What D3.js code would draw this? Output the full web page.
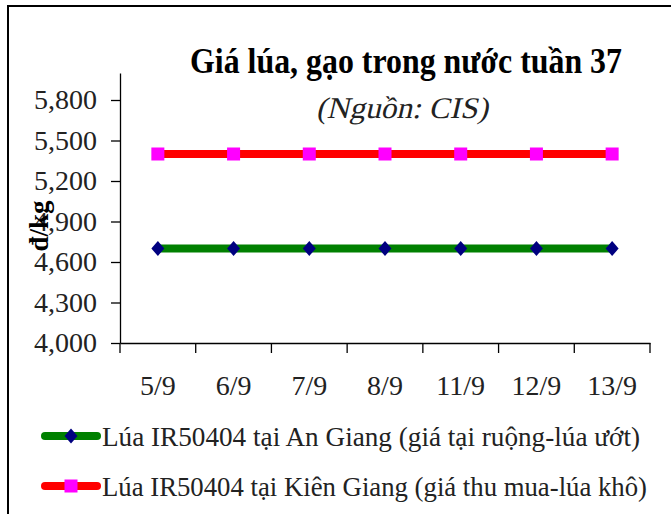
<!DOCTYPE html>
<html>
<head>
<meta charset="utf-8">
<script src="https://cdn.jsdelivr.net/npm/d3@7"></script>
<style>
  body { margin: 0; background: #fff; }
</style>
</head>
<body>
<div id="chart"></div>
<script>
const days = ["5/9", "6/9", "7/9", "8/9", "11/9", "12/9", "13/9"];
const anGiang = [4700, 4700, 4700, 4700, 4700, 4700, 4700];
const kienGiang = [5400, 5400, 5400, 5400, 5400, 5400, 5400];
const yTicks = [4000, 4300, 4600, 4900, 5200, 5500, 5800];

const SERIF = "Liberation Serif";

const width = 671, height = 514;
const svg = d3.select("#chart").append("svg")
    .attr("width", width)
    .attr("height", height)
    .style("font-family", SERIF);

// outer frame (runs off the right and bottom edges)
svg.append("rect")
    .attr("x", 8).attr("y", 6)
    .attr("width", 700).attr("height", 600)
    .attr("fill", "none")
    .attr("stroke", "#000")
    .attr("stroke-width", 2);

const plotLeft = 120, plotRight = 650, plotTop = 73, plotBottom = 343;

const x = d3.scaleBand().domain(days).range([plotLeft, plotRight]);
// 40.5px per 300 d, axis line runs a bit above 5,800
const y = d3.scaleLinear()
    .domain([4000, 4000 + (plotBottom - plotTop) / 40.5 * 300])
    .range([plotBottom, plotTop]);

const fmt = d3.format(",");

// y axis
const yAxis = svg.append("g")
    .attr("transform", `translate(${plotLeft},0)`)
    .call(d3.axisLeft(y).tickValues(yTicks).tickFormat(fmt).tickSize(9).tickSizeOuter(0));
yAxis.attr("font-family", null);
yAxis.select(".domain").attr("stroke-width", 1.3);
yAxis.selectAll(".tick line").attr("stroke-width", 1.3);
yAxis.selectAll("text")
    .style("font-family", SERIF)
    .style("font-size", "28px")
    .attr("x", -23)
    .attr("fill", "#222");

// x axis
const xAxis = svg.append("g")
    .attr("transform", `translate(0,${plotBottom})`)
    .call(d3.axisBottom(x).tickSize(0).tickSizeOuter(0));
xAxis.attr("font-family", null);
xAxis.select(".domain").attr("stroke-width", 1.3);
xAxis.selectAll("text")
    .style("font-family", SERIF)
    .style("font-size", "28px")
    .attr("dy", 0)
    .attr("y", 52)
    .attr("fill", "#222");
// boundary ticks between categories
const bounds = days.map(d => x(d)).concat([plotRight]);
svg.append("g").selectAll("line")
    .data(bounds)
    .enter().append("line")
    .attr("x1", d => d).attr("x2", d => d)
    .attr("y1", plotBottom).attr("y2", plotBottom + 10)
    .attr("stroke", "#000")
    .attr("stroke-width", 1.3);

const cx = d => x(d) + x.bandwidth() / 2;

const series = [
  { name: "Lúa IR50404 tại An Giang (giá tại ruộng-lúa ướt)", values: anGiang, line: "#008000", marker: "#000080", shape: "diamond", len: 538 },
  { name: "Lúa IR50404 tại Kiên Giang (giá thu mua-lúa khô)", values: kienGiang, line: "#ff0000", marker: "#ff00ff", shape: "square", len: 545 }
];

const lineGen = d3.line().x((v, i) => cx(days[i])).y(v => y(v));

function drawMarker(g, shape, color, px, py) {
  if (shape === "square") {
    g.append("rect")
      .attr("x", px - 6.5).attr("y", py - 6.5)
      .attr("width", 13).attr("height", 13)
      .attr("fill", color);
  } else {
    g.append("path")
      .attr("d", `M${px},${py - 7.5}L${px + 6.5},${py}L${px},${py + 7.5}L${px - 6.5},${py}Z`)
      .attr("fill", color);
  }
}

series.forEach(s => {
  svg.append("path")
    .datum(s.values)
    .attr("d", lineGen)
    .attr("fill", "none")
    .attr("stroke", s.line)
    .attr("stroke-width", 8);
  const g = svg.append("g");
  s.values.forEach((v, i) => drawMarker(g, s.shape, s.marker, cx(days[i]), y(v)));
});

// titles
svg.append("text")
    .attr("x", 190).attr("y", 73)
    .attr("textLength", 432)
    .attr("lengthAdjust", "spacingAndGlyphs")
    .style("font-size", "35px")
    .style("font-weight", "bold")
    .text("Giá lúa, gạo trong nước tuần 37");
// no serif italic face installed: slant the regular one
svg.append("g")
    .attr("transform", "translate(316,118) skewX(-13)")
  .append("text")
    .attr("x", 0).attr("y", 0)
    .attr("textLength", 172)
    .attr("lengthAdjust", "spacingAndGlyphs")
    .style("font-size", "30px")
    .attr("fill", "#222")
    .text("(Nguồn: CIS)");

// y label
svg.append("text")
    .attr("transform", "translate(48,226) rotate(-90)")
    .attr("text-anchor", "middle")
    .style("font-size", "27px")
    .style("font-weight", "bold")
    .text("đ/kg");

// legend
series.forEach((s, i) => {
  const ly = 436 + i * 50;
  svg.append("line")
    .attr("x1", 45).attr("x2", 97)
    .attr("y1", ly).attr("y2", ly)
    .attr("stroke", s.line)
    .attr("stroke-width", 8)
    .attr("stroke-linecap", "round");
  drawMarker(svg, s.shape, s.marker, 71, ly);
  svg.append("text")
    .attr("x", 102).attr("y", ly + 10)
    .attr("textLength", s.len)
    .attr("lengthAdjust", "spacingAndGlyphs")
    .style("font-size", "28px")
    .attr("fill", "#222")
    .text(s.name);
});
</script>
</body>
</html>
